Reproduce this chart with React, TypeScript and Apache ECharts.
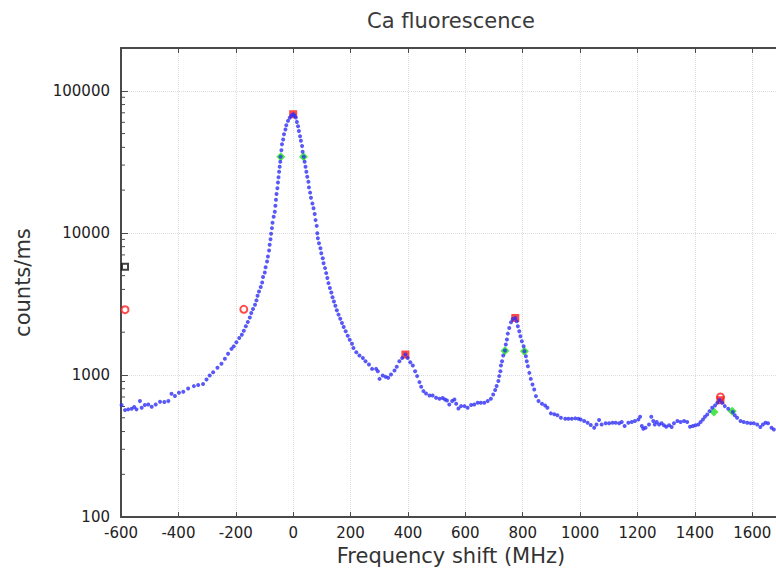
import React, { useEffect, useRef } from "react";
import * as echarts from "echarts";

const titleText = "Ca fluorescence";
const xName = "Frequency shift (MHz)";
const yName = "counts/ms";

// Blue scan points: [frequency shift (MHz), counts/ms]
const leftWing: [number, number][] = [
  [-598, 614], [-586, 566], [-575, 573], [-563, 579], [-554, 595], [-546, 573],
  [-534, 655], [-528, 589], [-517, 614], [-505, 621], [-493, 598], [-479, 621],
  [-464, 648], [-449, 645], [-435, 655], [-424, 738], [-412, 711], [-398, 750],
  [-383, 762], [-366, 804], [-346, 835], [-331, 849], [-314, 863], [-302, 930],
  [-291, 993], [-279, 1047], [-264, 1123], [-250, 1198], [-238, 1300], [-227, 1409],
  [-215, 1527], [-207, 1590], [-198, 1700], [-188, 1820], [-179, 1920], [-172, 2050],
  [-165, 2200], [-158, 2360], [-151, 2540], [-146, 2730], [-140, 2910], [-133, 3120],
  [-128, 3350], [-124, 3610], [-119, 3870], [-113, 4160], [-108, 4480], [-105, 4890],
  [-99, 5270], [-96, 5740], [-91, 6290], [-88, 6820], [-84, 7520], [-82, 8240],
  [-79, 9030], [-77, 9850], [-74, 10800],
];

const mainPeak: [number, number][] = [
  [-72, 11800], [-68, 13000], [-64, 14100], [-62, 15500], [-60, 17100], [-58, 18800],
  [-55, 20600], [-53, 22600], [-51, 24600], [-49, 26900], [-47, 29200], [-45, 31700],
  [-44, 34300], [-41, 38200], [-39, 42100], [-35, 45400], [-32, 49500], [-27, 53400],
  [-24, 57300], [-18, 61400], [-12, 64500], [-6, 67000], [0, 68400], [4, 67000],
  [9, 64900], [13, 60400], [17, 56300], [20, 52200], [24, 47900], [27, 44500],
  [31, 40800], [33, 37200], [37, 34300], [40, 31700], [43, 29200], [46, 26900],
  [49, 24800], [53, 22900], [55, 20900], [59, 19200], [62, 17700], [67, 16100],
  [71, 14900], [75, 13600], [78, 12300], [82, 11200], [84, 9950], [86, 9180],
  [90, 8460], [95, 7800], [98, 7190], [103, 6630], [106, 6120], [111, 5650],
  [115, 5210], [119, 4810], [123, 4430], [128, 4090], [133, 3810], [137, 3530],
  [142, 3290], [147, 3070], [152, 2850], [158, 2660], [164, 2490], [170, 2320],
  [176, 2180], [183, 2030], [190, 1890], [197, 1770], [205, 1660],
];

const middle: [number, number][] = [
  [210, 1550], [220, 1446], [231, 1370], [243, 1318], [252, 1250], [264, 1185],
  [275, 1104], [289, 1104], [295, 1063], [301, 939], [312, 991], [322, 970],
  [331, 955], [341, 1009], [353, 1076], [361, 1141], [370, 1250], [380, 1318],
  [391, 1393], [399, 1318], [408, 1230], [417, 1166], [425, 1063], [432, 982],
  [440, 891], [446, 826], [454, 770], [463, 741], [475, 718], [486, 718],
  [498, 692], [510, 681], [521, 688], [529, 673], [536, 662], [544, 621],
  [554, 655], [562, 673], [568, 628], [576, 582], [585, 604], [597, 604],
  [608, 589], [620, 614], [631, 621], [643, 638], [654, 638], [666, 638],
  [678, 655], [689, 681], [697, 729], [704, 783], [709, 836], [715, 906],
  [718, 982], [722, 1063], [724, 1166], [728, 1250], [732, 1370], [738, 1486],
  [741, 1637], [745, 1775], [748, 1955], [753, 2143], [759, 2349], [765, 2478],
  [774, 2518], [779, 2388], [783, 2203], [788, 2032], [792, 1875], [797, 1726],
  [803, 1592], [806, 1469], [811, 1355], [814, 1250], [818, 1153], [823, 1035],
  [828, 939], [834, 857], [840, 791], [846, 710], [855, 655], [867, 628],
  [878, 611], [886, 589], [898, 537], [910, 529], [921, 520],
];

const tail: [number, number][] = [
  [933, 500], [948, 492], [959, 492], [971, 492], [983, 495], [994, 492],
  [1002, 487], [1014, 474], [1026, 462], [1037, 444], [1049, 425], [1057, 449],
  [1066, 482], [1075, 449], [1089, 457], [1101, 457], [1113, 462], [1124, 462],
  [1136, 457], [1145, 467], [1155, 438], [1168, 462], [1180, 467], [1191, 474],
  [1203, 487], [1209, 508], [1215, 438], [1220, 419], [1228, 425], [1240, 449],
  [1248, 508], [1255, 474], [1260, 449], [1267, 467], [1275, 449], [1284, 457],
  [1292, 443], [1300, 433], [1310, 443], [1319, 431], [1327, 457], [1339, 474],
  [1350, 467], [1362, 474], [1373, 467], [1383, 433], [1393, 438], [1402, 443],
  [1412, 449], [1420, 467], [1428, 487], [1435, 508], [1443, 528], [1451, 557],
  [1460, 589], [1470, 611], [1478, 638], [1486, 666], [1495, 638], [1504, 604],
  [1516, 579], [1532, 549], [1539, 520], [1547, 500], [1559, 474], [1570, 467],
  [1582, 462], [1594, 457], [1605, 457], [1617, 449], [1628, 431], [1637, 449],
  [1646, 462], [1655, 457], [1667, 425], [1675, 414],
];

// Markers
const peakSquares: [number, number][] = [[0, 68400], [391, 1393], [774, 2518], [1489, 665]];
const halfMaxDiamonds: [number, number][] = [
  [-43, 34300], [36, 34300], [738, 1480], [806, 1470], [1466, 550], [1530, 555],
];
const openCircles: [number, number][] = [[-586, 2880], [-172, 2900], [1489, 700]];
const blackSquares: [number, number][] = [[-586, 5770]];

// Axis settings
const xMin = -600;
const xMax = 1700;
const xStep = 200;
const yMin = 100;
const yMax = 200000;
const yMinorTicks = [
  200, 300, 400, 500, 600, 700, 800, 900,
  2000, 3000, 4000, 5000, 6000, 7000, 8000, 9000,
  20000, 30000, 40000, 50000, 60000, 70000, 80000, 90000,
];

const FONT = "DejaVu Sans";

export default function App() {
  const ref = useRef<HTMLDivElement>(null);

  useEffect(() => {
    if (!ref.current) return;
    const chart = echarts.init(ref.current, undefined, { renderer: "svg" });
    const scan = [...leftWing, ...mainPeak, ...middle, ...tail];
    const axisColor = "#4a4a4a";

    chart.setOption({
      animation: false,
      backgroundColor: "#ffffff",
      graphic: [
        {
          type: "text",
          x: 451,
          y: 21,
          style: {
            text: titleText,
            font: `21px "${FONT}"`,
            fill: "#3a3a3a",
            textAlign: "center",
            textVerticalAlign: "middle",
          },
        },
      ],
      grid: { left: 121, right: 19, top: 48, bottom: 53 },
      xAxis: [
        {
          type: "value",
          min: xMin,
          max: xMax,
          interval: xStep,
          name: xName,
          nameLocation: "middle",
          nameGap: 26,
          nameTextStyle: { fontFamily: FONT, fontSize: 21, color: "#333" },
          axisLine: { show: true, onZero: false, lineStyle: { color: axisColor, width: 2 } },
          axisTick: { show: true, inside: true, length: 5, lineStyle: { color: axisColor } },
          axisLabel: {
            fontFamily: FONT,
            fontSize: 15,
            color: "#222",
            margin: 8,
            showMaxLabel: false,
            formatter: (v: number) => String(v),
          },
          splitLine: { show: true, lineStyle: { color: "#dddddd", type: "dotted", width: 1 } },
        },
        {
          type: "value",
          position: "top",
          min: xMin,
          max: xMax,
          interval: xStep,
          axisLine: { show: true, onZero: false, lineStyle: { color: axisColor, width: 2 } },
          axisTick: { show: true, inside: true, length: 5, lineStyle: { color: axisColor } },
          axisLabel: { show: false },
          splitLine: { show: false },
        },
      ],
      yAxis: {
        type: "log",
        logBase: 10,
        min: yMin,
        max: yMax,
        name: yName,
        nameLocation: "middle",
        nameGap: 88,
        nameTextStyle: { fontFamily: FONT, fontSize: 21, color: "#333" },
        axisLine: { show: true, onZero: false, lineStyle: { color: axisColor, width: 2 } },
        axisTick: { show: true, inside: true, length: 7, lineStyle: { color: axisColor } },
        axisLabel: {
          fontFamily: FONT,
          fontSize: 15,
          color: "#222",
          margin: 11,
          formatter: (v: number) => {
            const l = Math.log10(v);
            return Math.abs(l - Math.round(l)) < 1e-6 ? String(Math.round(v)) : "";
          },
        },
        splitLine: { show: true, lineStyle: { color: "#dddddd", type: "dotted", width: 1 } },
      },
      series: [
        {
          type: "custom",
          name: "minorTicks",
          xAxisIndex: 0,
          clip: false,
          silent: true,
          data: yMinorTicks.map((v) => [xMin, v]),
          encode: { x: 0, y: 1 },
          renderItem: (params: any, api: any) => {
            const p = api.coord([api.value(0), api.value(1)]);
            return {
              type: "line",
              shape: { x1: p[0], y1: p[1], x2: p[0] + 4, y2: p[1] },
              style: { stroke: axisColor, lineWidth: 1 },
            };
          },
        },
        {
          type: "scatter",
          name: "halfMax",
          symbol: "diamond",
          symbolSize: 9,
          itemStyle: { color: "#1ee01e" },
          data: halfMaxDiamonds,
        },
        {
          type: "scatter",
          name: "openCircles",
          symbol: "emptyCircle",
          symbolSize: 7,
          itemStyle: { color: "#ff2020", borderColor: "#ff2020", borderWidth: 1.5 },
          data: openCircles,
        },
        {
          type: "scatter",
          name: "peaks",
          symbol: "rect",
          symbolSize: 8,
          itemStyle: { color: "#ff1a1a" },
          data: peakSquares,
        },
        {
          type: "scatter",
          name: "black",
          symbol: "emptyRect",
          symbolSize: 6,
          itemStyle: { color: "#111", borderColor: "#111", borderWidth: 1.5 },
          data: blackSquares,
        },
        {
          type: "scatter",
          name: "scan",
          symbol: "circle",
          symbolSize: 4,
          itemStyle: { color: "#2f2ff5" },
          data: scan,
        },
      ],
    });

    return () => {
      chart.dispose();
    };
  }, []);

  return (
    <div
      style={{
        position: "fixed",
        left: 0,
        top: 0,
        width: 776,
        height: 571,
        overflow: "hidden",
        background: "#fff",
      }}
    >
      <div ref={ref} style={{ width: 800, height: 571 }} />
    </div>
  );
}
